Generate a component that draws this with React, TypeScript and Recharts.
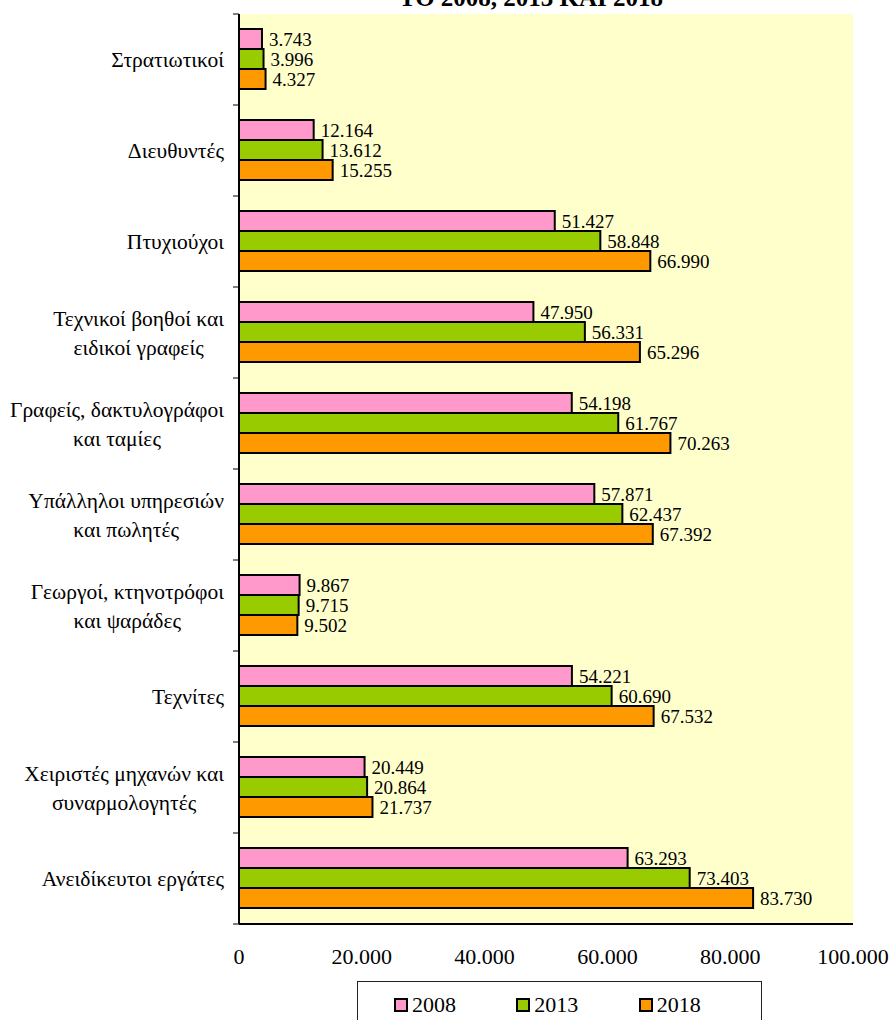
import { BarChart, Bar, XAxis, YAxis, CartesianGrid, LabelList, Legend } from 'recharts'

const categories = [
  'Στρατιωτικοί',
  'Διευθυντές',
  'Πτυχιούχοι',
  'Τεχνικοί βοηθοί και\nειδικοί γραφείς',
  'Γραφείς, δακτυλογράφοι\nκαι ταμίες',
  'Υπάλληλοι υπηρεσιών\nκαι πωλητές',
  'Γεωργοί, κτηνοτρόφοι\nκαι ψαράδες',
  'Τεχνίτες',
  'Χειριστές μηχανών και\nσυναρμολογητές',
  'Ανειδίκευτοι εργάτες',
]
const years = ['2008', '2013', '2018']
const values2008 = [3743, 12164, 51427, 47950, 54198, 57871, 9867, 54221, 20449, 63293]
const values2013 = [3996, 13612, 58848, 56331, 61767, 62437, 9715, 60690, 20864, 73403]
const values2018 = [4327, 15255, 66990, 65296, 70263, 67392, 9502, 67532, 21737, 83730]
const xTicks = [0, 20000, 40000, 60000, 80000, 100000]
const title = 'ΤΟ 2008, 2013 ΚΑΙ 2018'

const COLORS = ['#FF99CC', '#99CC00', '#FF9900']
const FONT = '"Liberation Serif", "Times New Roman", serif'
const CAT_FONT_SIZE = 21.5
const W = 889
const H = 1020
const MARGIN = { top: 14, right: 36, bottom: 36, left: 0 }
const X_AXIS_H = 60
const Y_AXIS_W = 239
const PLOT_H = H - MARGIN.top - MARGIN.bottom - X_AXIS_H
const BAND = PLOT_H / categories.length
const LINE_H = 29

const data = categories.map((name, i) => ({
  name,
  y2008: values2008[i],
  y2013: values2013[i],
  y2018: values2018[i],
}))

const fmt = (v: number | string) => String(v).replace(/\B(?=(\d{3})+(?!\d))/g, '.')

let ctx: CanvasRenderingContext2D | null = null
function textWidth(s: string, size: number) {
  if (!ctx) ctx = document.createElement('canvas').getContext('2d')
  if (!ctx) return s.length * size * 0.5
  ctx.font = `${size}px ${FONT}`
  return ctx.measureText(s).width
}

function CategoryTick(props: any) {
  const { x, y, payload, index } = props
  const lines = String(payload.value).split('\n')
  const w = Math.max(...lines.map((l) => textWidth(l, CAT_FONT_SIZE)))
  const cx = x - w / 2
  const half = BAND / 2
  const last = index === categories.length - 1
  return (
    <g>
      <line x1={x + 9} x2={x + 15} y1={y - half} y2={y - half} stroke="#000" />
      {last && <line x1={x + 9} x2={x + 15} y1={y + half} y2={y + half} stroke="#000" />}
      <text textAnchor="middle" fontFamily={FONT} fontSize={CAT_FONT_SIZE} fill="#000">
        {lines.map((l, i) => (
          <tspan key={i} x={cx} y={y + (i - (lines.length - 1) / 2) * LINE_H} dy="0.35em">
            {l}
          </tspan>
        ))}
      </text>
    </g>
  )
}

function LegendBox() {
  return (
    <div
      style={{
        boxSizing: 'border-box',
        width: '100%',
        height: '100%',
        borderTop: '1px solid #222',
        borderLeft: '1px solid #222',
        borderRight: '1px solid #222',
        display: 'flex',
        alignItems: 'flex-start',
        paddingLeft: 36,
        paddingTop: 12,
        fontFamily: FONT,
        fontSize: 22,
        lineHeight: '22px',
        color: '#000',
      }}
    >
      {years.map((yr, i) => (
        <div key={yr} style={{ display: 'flex', alignItems: 'center', width: 136 }}>
          <span
            style={{
              boxSizing: 'border-box',
              width: 14,
              height: 14,
              background: COLORS[i],
              border: '2px solid #000',
              marginRight: 4,
            }}
          />
          <span>{yr}</span>
        </div>
      ))}
    </div>
  )
}

export default function App() {
  const axisLine = { stroke: '#000', strokeWidth: 2 }
  return (
    <div style={{ position: 'fixed', top: 0, left: 0, width: W, height: H, background: '#fff' }}>
      <BarChart
        width={W}
        height={H}
        data={data}
        layout="vertical"
        margin={MARGIN}
        barCategoryGap={15}
        barGap={0}
      >
        <CartesianGrid xAxisId="b" yAxisId="l" horizontal={false} vertical={false} fill="#FFFFCC" />
        <XAxis
          xAxisId="b"
          type="number"
          domain={[0, 100000]}
          ticks={xTicks}
          interval={0}
          tickFormatter={fmt}
          axisLine={axisLine}
          tickLine={false}
          tickSize={0}
          tickMargin={24}
          height={X_AXIS_H}
          tick={{ fontSize: 22, fill: '#000', fontFamily: FONT }}
        />
        <XAxis
          xAxisId="t"
          orientation="top"
          type="number"
          domain={[0, 100000]}
          axisLine={axisLine}
          tick={false}
          tickLine={false}
          height={0}
        />
        <YAxis
          yAxisId="l"
          type="category"
          dataKey="name"
          width={Y_AXIS_W}
          interval={0}
          axisLine={axisLine}
          tickLine={false}
          tickSize={6}
          tickMargin={9}
          tick={<CategoryTick />}
        />
        <YAxis
          yAxisId="r"
          orientation="right"
          type="category"
          dataKey="name"
          width={0}
          axisLine={axisLine}
          tick={false}
          tickLine={false}
        />
        {years.map((yr, i) => (
          <Bar
            key={yr}
            xAxisId="b"
            yAxisId="l"
            dataKey={`y${yr}`}
            name={yr}
            fill={COLORS[i]}
            stroke="#000"
            strokeWidth={2}
            isAnimationActive={false}
          >
            <LabelList
              dataKey={`y${yr}`}
              position="right"
              offset={7}
              formatter={fmt}
              fill="#000"
              fontSize={19}
              fontFamily={FONT}
            />
          </Bar>
        ))}
        <Legend
          layout="horizontal"
          verticalAlign="middle"
          align="center"
          wrapperStyle={{ top: 981, left: 357, width: 405, height: 39 }}
          content={() => <LegendBox />}
        />
      </BarChart>
      <svg
        width={W}
        height={30}
        style={{ position: 'absolute', top: 0, left: 0, pointerEvents: 'none' }}
      >
        <text x={531} y={6} textAnchor="middle" fontFamily={FONT} fontSize={25} fontWeight="bold" fill="#000">
          {title}
        </text>
      </svg>
    </div>
  )
}
